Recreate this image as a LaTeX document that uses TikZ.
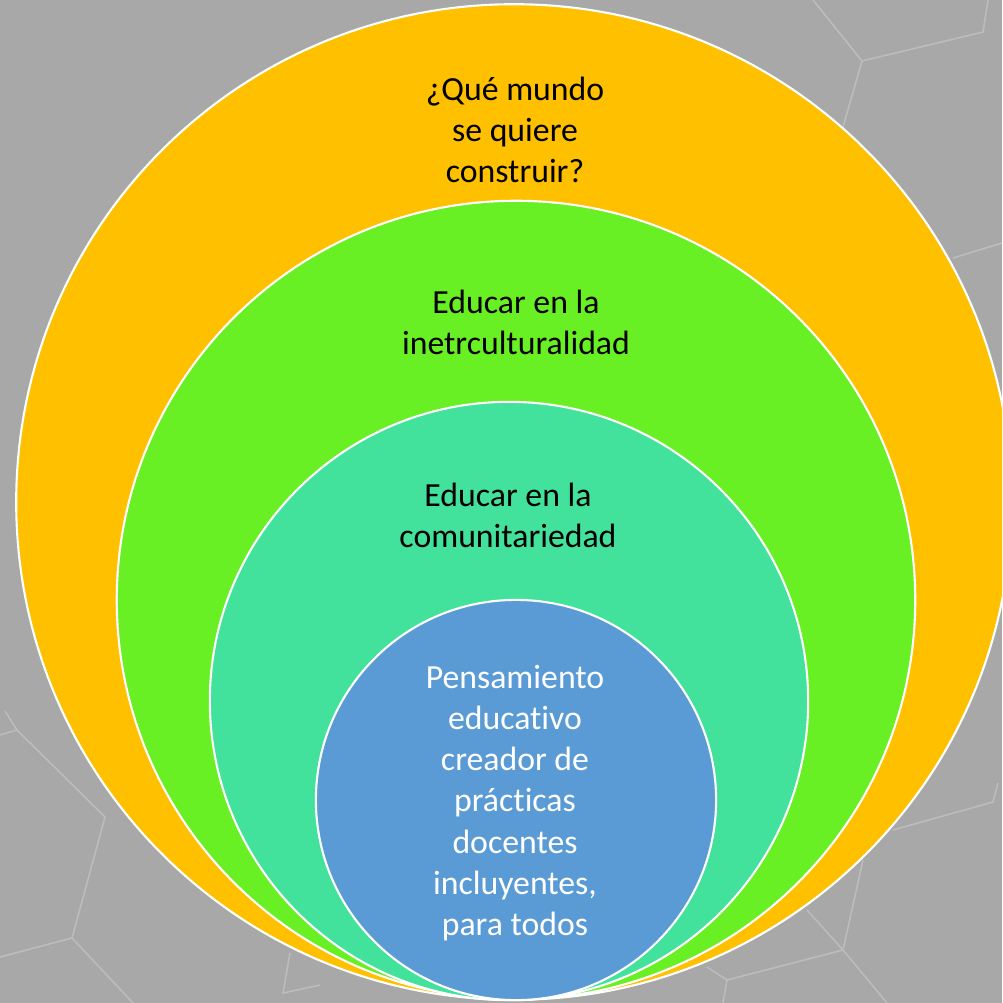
\documentclass[tikz,border=0pt]{standalone}
\usepackage{fontspec}
\setmainfont{Carlito}[Ligatures=NoCommon]
\usetikzlibrary{positioning}
\definecolor{fondogris}{RGB}{168,168,168}
\definecolor{lineagris}{RGB}{188,188,188}
\definecolor{mundonaranja}{RGB}{255,192,0}
\definecolor{interverde}{RGB}{104,240,36}
\definecolor{comunturquesa}{RGB}{66,225,156}
\definecolor{pensazul}{RGB}{91,155,213}
\tikzset{ring/.style={circle, draw=white, line width=0.6pt, inner sep=0pt, outer sep=0pt},
         hexlinea/.style={lineagris, line width=0.45pt},
         lema/.style={align=center, inner sep=0pt, font=\fontsize{9.6}{11.7}\selectfont}}

\begin{document}
\begin{tikzpicture}[x=0.01cm,y=-0.01cm]
\useasboundingbox (0,0) rectangle (1002,1003);
\clip (0,0) rectangle (1002,1003);
% fondo
\fill[fondogris] (0,0) rectangle (1002,1003);
\draw[hexlinea] (813,0) -- (862,61) -- (843,127);
\draw[hexlinea] (862,61) -- (983,32) -- (988,0);
\draw[hexlinea] (953,258) -- (1002,243);
\draw[hexlinea] (5,711) -- (17,730) -- (105,817) -- (72,938) -- (0,957);
\draw[hexlinea] (17,730) -- (0,735);
\draw[hexlinea] (72,938) -- (133,1003);
\draw[hexlinea] (290,953) -- (283,993) -- (320,985);
\draw[hexlinea] (998,783) -- (993,802) -- (893,830);
\draw[hexlinea] (863,860) -- (843,950) -- (727,980) -- (707,967);
\draw[hexlinea] (807,910) -- (843,950) -- (887,1003);
\draw[hexlinea] (727,980) -- (723,1003);

% circulos
\node[ring, fill=mundonaranja, minimum size=9.95cm] (mundo) at (514,502) {};
\node[ring, fill=interverde, minimum size=7.98cm] (inter) at (516,600) {};
\node[ring, fill=comunturquesa, minimum size=5.98cm] (comun) at (509,701) {};
\node[ring, fill=pensazul, minimum size=4cm] (pensa) at (516,800) {};

% textos
\node[lema] (mundotxt) at (515,130) {¿Qué mundo\\se quiere\\construir?};
\node[lema] (intertxt) at (516,322) {Educar en la\\inetrculturalidad};
\node[lema] (comuntxt) at (508,515) {Educar en la\\comunitariedad};
\node[lema, text=white] (pensatxt) at (515,803) {Pensamiento\\educativo\\creador de\\prácticas\\docentes\\incluyentes,\\para todos};
\end{tikzpicture}
\end{document}
